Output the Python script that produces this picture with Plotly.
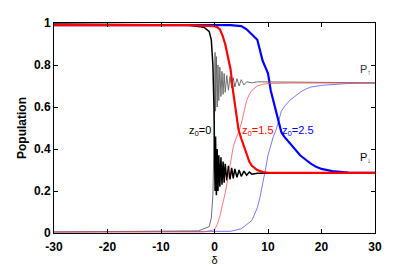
import plotly.graph_objects as go

# z0 = 0 (black)
blk_thick_x = [-30, -5, -2, -1, -0.6, -0.3, -0.1, 0, 0.1, 0.2, 0.35, 0.5, 0.65, 0.8, 1.0, 1.2, 1.4, 1.6, 1.8, 2.0, 2.3, 2.6, 2.9, 3.2, 3.5, 3.8, 4.2, 4.6, 5.0, 5.5, 6, 6.5, 7, 8, 30]
blk_thick_y = [0.995, 0.99, 0.98, 0.96, 0.92, 0.8, 0.6, 0.42, 0.2, 0.46, 0.18, 0.4, 0.2, 0.37, 0.22, 0.36, 0.23, 0.34, 0.24, 0.33, 0.25, 0.32, 0.255, 0.31, 0.26, 0.305, 0.265, 0.3, 0.27, 0.295, 0.275, 0.29, 0.28, 0.285, 0.285]
blk_thin_x = [-30, -3, -1, -0.6, -0.3, -0.1, 0, 0.1, 0.2, 0.35, 0.5, 0.65, 0.8, 1.0, 1.2, 1.4, 1.6, 1.8, 2.0, 2.3, 2.6, 2.9, 3.2, 3.5, 3.8, 4.2, 4.6, 5.0, 5.5, 6, 7, 8, 30]
blk_thin_y = [0.005, 0.01, 0.03, 0.07, 0.18, 0.38, 0.55, 0.86, 0.58, 0.84, 0.6, 0.8, 0.63, 0.79, 0.65, 0.77, 0.66, 0.76, 0.67, 0.75, 0.68, 0.745, 0.69, 0.74, 0.695, 0.735, 0.70, 0.73, 0.705, 0.72, 0.715, 0.72, 0.715]

# z0 = 1.5 (red)
red_thick_x = [-30, -5, 0, 0.5, 1, 1.5, 2, 2.5, 3, 3.5, 4, 4.5, 5, 5.5, 6, 6.5, 7, 8, 9, 10, 12, 15, 20, 30]
red_thick_y = [0.99, 0.99, 0.985, 0.98, 0.97, 0.94, 0.9, 0.84, 0.78, 0.67, 0.57, 0.49, 0.45, 0.41, 0.37, 0.34, 0.32, 0.3, 0.29, 0.287, 0.286, 0.286, 0.286, 0.286]
red_thin_x = [-30, -2, 0, 0.5, 1, 1.5, 2, 2.5, 3, 3.5, 4, 4.5, 5, 5.5, 6, 6.5, 7, 8, 9, 10, 12, 15, 30]
red_thin_y = [0.005, 0.005, 0.015, 0.04, 0.08, 0.13, 0.19, 0.26, 0.33, 0.41, 0.45, 0.48, 0.52, 0.58, 0.63, 0.66, 0.68, 0.70, 0.708, 0.712, 0.714, 0.714, 0.714]

# z0 = 2.5 (blue)
blu_thick_x = [-30, 0, 3, 5, 6, 7, 8, 8.5, 9, 9.5, 10, 10.5, 11, 11.5, 12, 12.5, 13, 14, 15, 16, 17, 18, 19, 20, 22, 25, 30]
blu_thick_y = [0.99, 0.99, 0.99, 0.985, 0.97, 0.945, 0.92, 0.87, 0.82, 0.79, 0.76, 0.68, 0.63, 0.57, 0.52, 0.48, 0.46, 0.43, 0.4, 0.37, 0.35, 0.33, 0.315, 0.305, 0.295, 0.288, 0.286]
blu_thin_x = [-30, 3, 5, 6, 7, 7.5, 8, 8.5, 9, 9.5, 10, 10.5, 11, 11.5, 12, 12.5, 13, 14, 15, 16, 17, 18, 20, 22, 25, 30]
blu_thin_y = [0.005, 0.008, 0.02, 0.04, 0.06, 0.09, 0.12, 0.17, 0.23, 0.3, 0.37, 0.42, 0.46, 0.49, 0.54, 0.58, 0.6, 0.63, 0.65, 0.67, 0.685, 0.695, 0.703, 0.708, 0.712, 0.714]

x_ticks = [-30, -20, -10, 0, 10, 20, 30]
x_ticklabels = ["-30", "-20", "-10", "0", "10", "20", "30"]
y_ticks = [0, 0.2, 0.4, 0.6, 0.8, 1]
y_ticklabels = ["0", "0.2", "0.4", "0.6", "0.8", "1"]

fig = go.Figure()

def add(x, y, color, width, opacity=1.0):
    fig.add_trace(go.Scatter(x=x, y=y, mode="lines", opacity=opacity,
                             line=dict(color=color, width=width), showlegend=False,
                             hoverinfo="skip"))

add(blu_thin_x, blu_thin_y, "#5050ff", 0.9, 0.85)
add(blu_thick_x, blu_thick_y, "#0000ff", 2.2)
add(blk_thin_x, blk_thin_y, "#606060", 0.9)
add(blk_thick_x, blk_thick_y, "#000000", 1.5)
add(red_thin_x, red_thin_y, "#ff5050", 0.9, 0.85)
add(red_thick_x, red_thick_y, "#ff0000", 2.2)

fam = "Liberation Sans, Arial, sans-serif"
tickfont = dict(family=fam, size=12, color="black", weight="bold")

annos = [
    dict(x=-0.3, y=0.486, text="z<sub>0</sub>=0", color="black", xanchor="right"),
    dict(x=4.8, y=0.486, text="z<sub>0</sub>=1.5", color="#ff0000", xanchor="left"),
    dict(x=12.3, y=0.486, text="z<sub>0</sub>=2.5", color="#0000ff", xanchor="left"),
    dict(x=26.8, y=0.775, text="P<sub>↑</sub>", color="#333333", xanchor="left"),
    dict(x=26.8, y=0.355, text="P<sub>↓</sub>", color="black", xanchor="left"),
]
for a in annos:
    fig.add_annotation(x=a["x"], y=a["y"], text=a["text"], showarrow=False,
                       xanchor=a["xanchor"], yanchor="middle",
                       font=dict(family=fam, size=11, color=a["color"]))

# the page places the figure 8px from the top-left corner, so the canvas is
# shrunk by 8px and the left/top margins reduced to land the axes where the reference has them
fig.update_layout(
    width=407, height=261,
    margin=dict(l=46, r=40, t=15, b=36),
    paper_bgcolor="white", plot_bgcolor="white",
    font=dict(family=fam, size=11, color="black"),
    xaxis=dict(range=[-30, 30], tickvals=x_ticks, ticktext=x_ticklabels,
               tickfont=tickfont, automargin=False, ticklabelstandoff=3,
               ticks="inside", ticklen=4, tickcolor="black", mirror="allticks",
               showline=True, linecolor="black", linewidth=1,
               showgrid=False, zeroline=False,
               title=dict(text="δ", font=dict(family=fam, size=11), standoff=1)),
    yaxis=dict(range=[0, 1], tickvals=y_ticks, ticktext=y_ticklabels,
               tickfont=tickfont, automargin=False,
               ticks="inside", ticklen=4, tickcolor="black", mirror="allticks",
               showline=True, linecolor="black", linewidth=1,
               showgrid=False, zeroline=False,
               title=dict(text="Population", font=dict(family=fam, size=12, weight="bold"), standoff=4)),
)

fig.write_html("out.html")
